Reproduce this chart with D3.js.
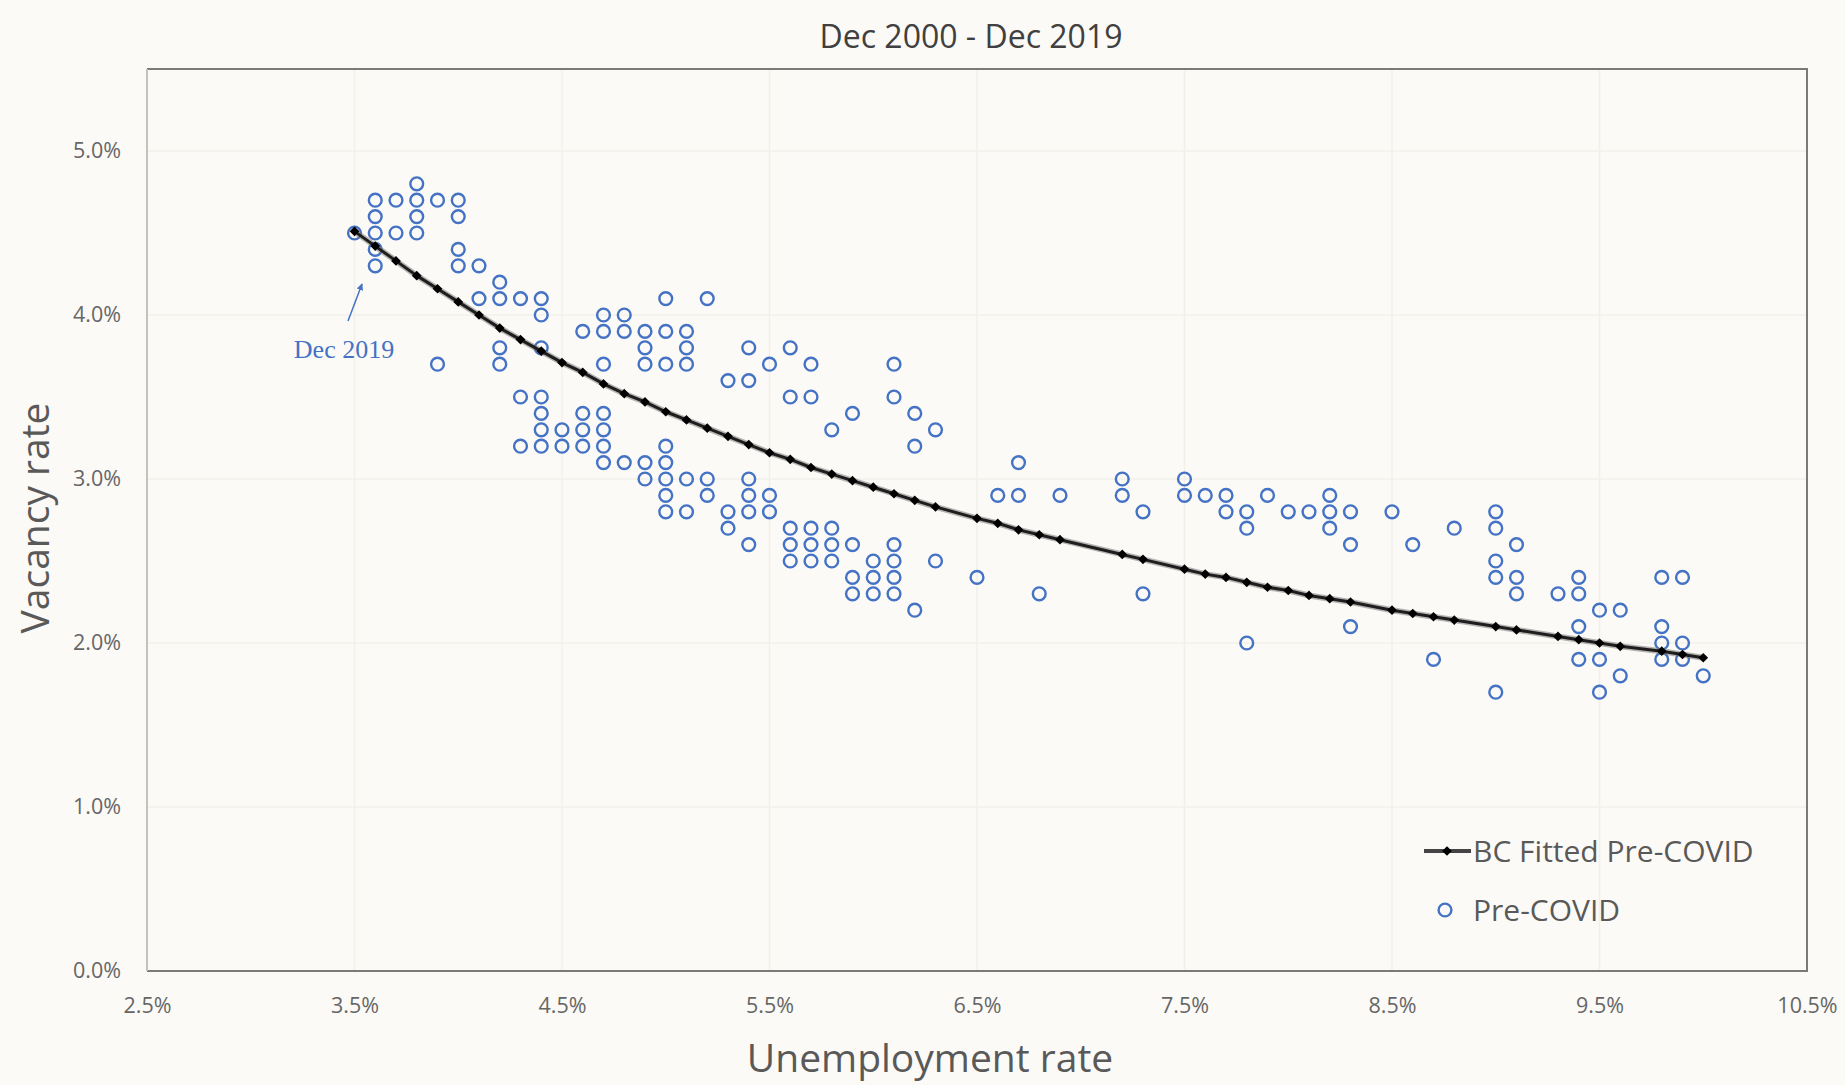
<!DOCTYPE html>
<html>
<head>
<meta charset="utf-8">
<script src="https://cdn.jsdelivr.net/npm/d3@7"></script>
<style>
  body { margin: 0; background: #fcfaf6; }
  svg { display: block; font-family: "Open Sans", sans-serif; }
</style>
</head>
<body>
<svg width="1845" height="1085"></svg>
<script>
// monthly points, Dec 2000 - Dec 2019: [unemployment %, vacancy %]
var preCovid = [
  [3.5,4.5],
  [3.6,4.7],[3.6,4.6],[3.6,4.5],[3.6,4.4],[3.6,4.3],
  [3.7,4.7],[3.7,4.5],
  [3.8,4.8],[3.8,4.7],[3.8,4.6],[3.8,4.5],
  [3.9,4.7],[3.9,3.7],
  [4.0,4.7],[4.0,4.6],[4.0,4.4],[4.0,4.3],
  [4.1,4.3],[4.1,4.1],
  [4.2,4.2],[4.2,4.1],[4.2,3.8],[4.2,3.7],
  [4.3,4.1],[4.3,3.5],[4.3,3.2],
  [4.4,4.1],[4.4,4.0],[4.4,3.8],[4.4,3.5],[4.4,3.4],[4.4,3.3],[4.4,3.2],
  [4.5,3.3],[4.5,3.2],
  [4.6,3.9],[4.6,3.4],[4.6,3.3],[4.6,3.2],
  [4.7,4.0],[4.7,3.9],[4.7,3.7],[4.7,3.4],[4.7,3.3],[4.7,3.2],[4.7,3.1],
  [4.8,4.0],[4.8,3.9],[4.8,3.1],
  [4.9,3.9],[4.9,3.8],[4.9,3.7],[4.9,3.1],[4.9,3.0],
  [5.0,4.1],[5.0,3.9],[5.0,3.7],[5.0,3.2],[5.0,3.1],[5.0,3.0],[5.0,2.9],[5.0,2.8],
  [5.1,3.9],[5.1,3.8],[5.1,3.7],[5.1,3.0],[5.1,2.8],
  [5.2,4.1],[5.2,3.0],[5.2,2.9],
  [5.3,3.6],[5.3,2.8],[5.3,2.7],
  [5.4,3.8],[5.4,3.6],[5.4,3.0],[5.4,2.9],[5.4,2.8],[5.4,2.6],
  [5.5,3.7],[5.5,2.9],[5.5,2.8],
  [5.6,3.8],[5.6,3.5],[5.6,2.7],[5.6,2.6],[5.6,2.5],
  [5.7,3.7],[5.7,3.5],[5.7,2.7],[5.7,2.6],[5.7,2.5],
  [5.8,3.3],[5.8,2.7],[5.8,2.6],[5.8,2.5],
  [5.9,3.4],[5.9,2.6],[5.9,2.4],[5.9,2.3],
  [6.0,2.5],[6.0,2.4],[6.0,2.3],
  [6.1,3.7],[6.1,3.5],[6.1,2.6],[6.1,2.5],[6.1,2.4],[6.1,2.3],
  [6.2,3.4],[6.2,3.2],[6.2,2.2],
  [6.3,3.3],[6.3,2.5],
  [6.5,2.4],[6.6,2.9],[6.7,3.1],[6.7,2.9],[6.8,2.3],[6.9,2.9],
  [7.2,3.0],[7.2,2.9],[7.3,2.8],[7.3,2.3],
  [7.5,3.0],[7.5,2.9],[7.6,2.9],[7.7,2.9],[7.7,2.8],
  [7.8,2.8],[7.8,2.7],[7.8,2.0],[7.9,2.9],[8.0,2.8],[8.1,2.8],
  [8.2,2.9],[8.2,2.8],[8.2,2.7],[8.3,2.8],[8.3,2.6],[8.3,2.1],
  [8.5,2.8],[8.6,2.6],[8.7,1.9],[8.8,2.7],
  [9.0,2.8],[9.0,2.7],[9.0,2.5],[9.0,2.4],[9.0,1.7],
  [9.1,2.6],[9.1,2.4],[9.1,2.3],
  [9.3,2.3],[9.4,2.4],[9.4,2.3],[9.4,2.1],[9.4,1.9],
  [9.5,2.2],[9.5,1.9],[9.5,1.7],[9.6,2.2],[9.6,1.8],
  [9.8,2.4],[9.8,2.1],[9.8,2.0],[9.8,1.9],
  [9.9,2.4],[9.9,2.0],[9.9,1.9],[10.0,1.8]
];

// BC fitted curve (read at each unemployment level)
var fitUnemp = [3.5,3.6,3.7,3.8,3.9,4.0,4.1,4.2,4.3,4.4,4.5,4.6,4.7,4.8,4.9,
  5.0,5.1,5.2,5.3,5.4,5.5,5.6,5.7,5.8,5.9,6.0,6.1,6.2,6.3,6.5,6.6,6.7,6.8,6.9,
  7.2,7.3,7.5,7.6,7.7,7.8,7.9,8.0,8.1,8.2,8.3,8.5,8.6,8.7,8.8,9.0,9.1,
  9.3,9.4,9.5,9.6,9.8,9.9,10.0];
var fitVacancy = [4.51,4.42,4.33,4.24,4.16,4.08,4.00,3.92,3.85,3.78,3.71,3.65,3.58,3.52,3.47,
  3.41,3.36,3.31,3.26,3.21,3.16,3.12,3.07,3.03,2.99,2.95,2.91,2.87,2.83,2.76,2.73,2.69,2.66,2.63,
  2.54,2.51,2.45,2.42,2.40,2.37,2.34,2.32,2.29,2.27,2.25,2.20,2.18,2.16,2.14,2.10,2.08,
  2.04,2.02,2.00,1.98,1.95,1.93,1.91];

var xTicks = [2.5,3.5,4.5,5.5,6.5,7.5,8.5,9.5,10.5];
var yTicks = [0,1,2,3,4,5];

var svg = d3.select("svg"),
    pLeft = 147, pRight = 1807, pTop = 69, pBottom = 971;

var x = d3.scaleLinear().domain([2.5, 10.5]).range([pLeft, pRight]),
    y = d3.scaleLinear().domain([0, 5.5]).range([pBottom, pTop]);

var fmt = function(d) { return d.toFixed(1) + "%"; };

// faint gridlines
svg.append("g").selectAll("line").data(xTicks).enter().append("line")
    .attr("x1", x).attr("x2", x).attr("y1", pTop).attr("y2", pBottom)
    .attr("stroke", "#f3f0ea").attr("stroke-width", 1.5);
svg.append("g").selectAll("line").data(yTicks).enter().append("line")
    .attr("x1", pLeft).attr("x2", pRight).attr("y1", y).attr("y2", y)
    .attr("stroke", "#f3f0ea").attr("stroke-width", 1.5);

// plot border
svg.append("path")
    .attr("d", "M" + pLeft + "," + pTop + "H" + pRight + "V" + pBottom + "H" + pLeft)
    .attr("fill", "none").attr("stroke", "#7a7a7a").attr("stroke-width", 2);
svg.append("line")
    .attr("x1", pLeft).attr("x2", pLeft).attr("y1", pTop).attr("y2", pBottom)
    .attr("stroke", "#c4c2bd").attr("stroke-width", 2);

// axes
var gx = svg.append("g")
    .attr("transform", "translate(0," + pBottom + ")")
    .call(d3.axisBottom(x).tickValues(xTicks).tickFormat(fmt).tickSize(0).tickPadding(27));
var gy = svg.append("g")
    .attr("transform", "translate(" + pLeft + ",0)")
    .call(d3.axisLeft(y).tickValues(yTicks).tickFormat(fmt).tickSize(0).tickPadding(26));
[gx, gy].forEach(function(g) {
  g.select(".domain").remove();
  g.selectAll("text").attr("font-size", 21.5).attr("fill", "#666")
    .attr("font-family", "Open Sans, sans-serif");
});

// scatter
svg.append("g").selectAll("circle")
  .data(preCovid)
  .enter().append("circle")
    .attr("cx", function(d) { return x(d[0]); })
    .attr("cy", function(d) { return y(d[1]); })
    .attr("r", 6.4)
    .attr("fill", "none")
    .attr("stroke", "#4472c4")
    .attr("stroke-width", 2.4);

// fitted curve
var fit = fitUnemp.map(function(u, i) { return [u, fitVacancy[i]]; });
var line = d3.line().x(function(d) { return x(d[0]); }).y(function(d) { return y(d[1]); });
svg.append("path").datum(fit).attr("d", line)
    .attr("fill", "none").attr("stroke", "#7a7a7a").attr("stroke-width", 6).attr("opacity", 0.55);
svg.append("path").datum(fit).attr("d", line)
    .attr("fill", "none").attr("stroke", "#1e1e1e").attr("stroke-width", 3);
var diamond = d3.symbol().type(d3.symbolDiamond2).size(60);
svg.append("g").selectAll("path")
  .data(fit)
  .enter().append("path")
    .attr("d", diamond)
    .attr("transform", function(d) { return "translate(" + x(d[0]) + "," + y(d[1]) + ")"; })
    .attr("fill", "#000");

// annotation
svg.append("defs").append("marker")
    .attr("id", "head").attr("viewBox", "0 0 10 10").attr("refX", 9).attr("refY", 5)
    .attr("markerWidth", 4.5).attr("markerHeight", 4.5).attr("orient", "auto")
  .append("path").attr("d", "M0,0L10,5L0,10z").attr("fill", "#4472c4");
svg.append("line")
    .attr("x1", 348).attr("y1", 321).attr("x2", 362).attr("y2", 284)
    .attr("stroke", "#4472c4").attr("stroke-width", 1.5).attr("marker-end", "url(#head)");
svg.append("text")
    .attr("x", 344).attr("y", 358).attr("text-anchor", "middle")
    .attr("font-family", "Liberation Serif, serif").attr("font-size", 26)
    .attr("fill", "#4472c4").text("Dec 2019");

// titles
svg.append("text").attr("x", 971).attr("y", 48).attr("text-anchor", "middle")
    .attr("font-size", 32).attr("fill", "#404040").text("Dec 2000 - Dec 2019");
svg.append("text").attr("x", 930).attr("y", 1072).attr("text-anchor", "middle")
    .attr("font-size", 39).attr("fill", "#595959").text("Unemployment rate");
svg.append("text").attr("transform", "translate(49,518) rotate(-90)").attr("text-anchor", "middle")
    .attr("font-size", 39).attr("fill", "#595959").text("Vacancy rate");

// legend
var lg = svg.append("g");
lg.append("line").attr("x1", 1424).attr("x2", 1471).attr("y1", 851).attr("y2", 851)
    .attr("stroke", "#444").attr("stroke-width", 4);
lg.append("path").attr("d", diamond).attr("transform", "translate(1447,851)").attr("fill", "#000");
lg.append("text").attr("x", 1473).attr("y", 862).attr("font-size", 30).attr("fill", "#595959")
    .text("BC Fitted Pre-COVID");
lg.append("circle").attr("cx", 1445).attr("cy", 910).attr("r", 6.4)
    .attr("fill", "none").attr("stroke", "#4472c4").attr("stroke-width", 2.4);
lg.append("text").attr("x", 1473).attr("y", 921).attr("font-size", 30).attr("fill", "#595959")
    .text("Pre-COVID");
</script>
</body>
</html>
